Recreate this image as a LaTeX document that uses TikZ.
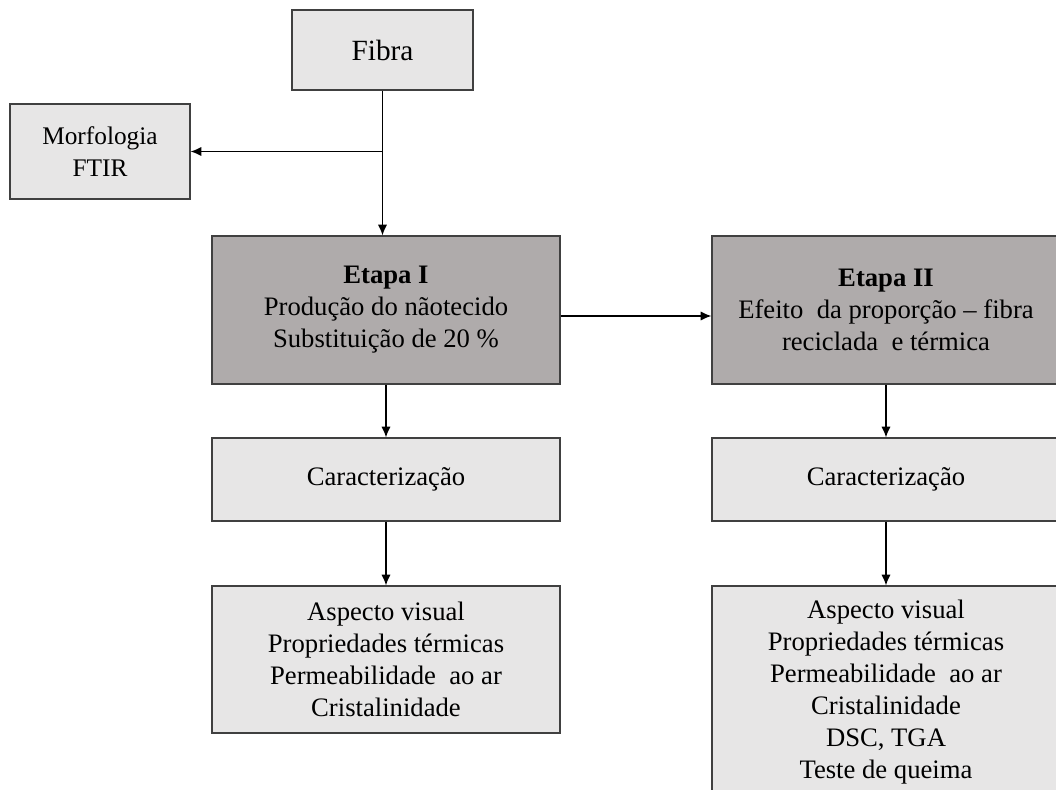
\documentclass[tikz,border=0pt]{standalone}
\usepackage{fontspec}
\setmainfont{Liberation Serif}
\usetikzlibrary{arrows.meta}
\definecolor{boxlight}{RGB}{231,230,230}
\definecolor{boxdark}{RGB}{175,171,171}
\definecolor{boxline}{RGB}{64,64,64}

\begin{document}
\begin{tikzpicture}[x=0.75pt,y=0.75pt,yscale=-1,xscale=1,
  lightbox/.style={draw=boxline,fill=boxlight,line width=1pt,align=center,inner sep=0pt,font=\fontsize{20}{24}\selectfont},
  darkbox/.style={lightbox,fill=boxdark},
  arr/.style={-{Latex[length=8pt,width=7pt]},line width=1pt,color=black}]
\useasboundingbox (0,0) rectangle (1056,789);

%Shape: Rectangle [Fibra]
\node (fibra) [lightbox,minimum width=135.75pt,minimum height=60pt,font=\fontsize{22}{26}\selectfont] at (382.5,50) {Fibra};
%Shape: Rectangle [Morfologia]
\node (morf) [lightbox,minimum width=135pt,minimum height=71.25pt,font=\fontsize{19}{24}\selectfont] at (100,151.5) {Morfologia\\FTIR};
%Shape: Rectangle [Etapa I]
\node (etapa1) [darkbox,minimum width=261pt,minimum height=111pt] at (386,310) {\textbf{Etapa I}\\Produção do nãotecido\\Substituição de 20 \%};
%Shape: Rectangle [Etapa II]
\node (etapa2) [darkbox,minimum width=261pt,minimum height=111pt] at (886,310) {\textbf{Etapa II}\\Efeito\ \ da proporção -- fibra\\reciclada\ \ e térmica};
%Shape: Rectangle [Caracterizacao I]
\node (carac1) [lightbox,minimum width=261pt,minimum height=62.25pt] at (386,479.5) {Caracterização};
%Shape: Rectangle [Caracterizacao II]
\node (carac2) [lightbox,minimum width=261pt,minimum height=62.25pt] at (886,479.5) {Caracterização};
%Shape: Rectangle [Ensaios I]
\node (res1) [lightbox,minimum width=261pt,minimum height=110.25pt] at (386,659.5) {Aspecto visual\\Propriedades térmicas\\Permeabilidade\ \ ao ar\\Cristalinidade};
%Shape: Rectangle [Ensaios II]
\node (res2) [lightbox,minimum width=261pt,minimum height=159pt] at (886,692) {Aspecto visual\\Propriedades térmicas\\Permeabilidade\ \ ao ar\\Cristalinidade\\DSC, TGA\\Teste de queima};

%Straight Lines [Fibra -> Etapa I, ramo para Morfologia]
\coordinate (ramo) at (fibra.south |- morf.east);
\draw [arr] (fibra.south) -- (fibra.south |- etapa1.north);
\draw [arr] (ramo) -- (morf.east);
%Straight Lines [Etapa I -> Etapa II]
\draw [arr] ([yshift=4.5pt]etapa1.east) -- ([yshift=4.5pt]etapa2.west);
%Straight Lines [coluna esquerda]
\draw [arr] (etapa1.south) -- (carac1.north);
\draw [arr] (carac1.south) -- (res1.north);
%Straight Lines [coluna direita]
\draw [arr] (etapa2.south) -- (carac2.north);
\draw [arr] (carac2.south) -- (res2.north);

\end{tikzpicture}
\end{document}
